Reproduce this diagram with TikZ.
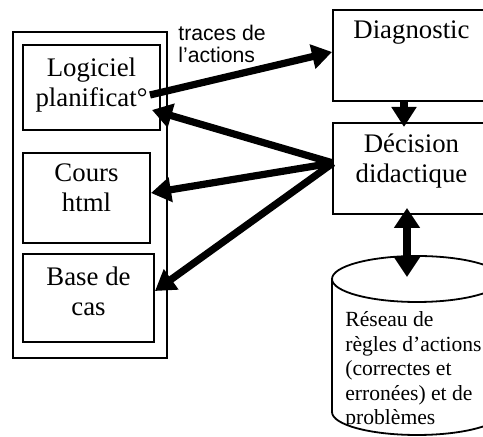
\documentclass[tikz,border=0pt]{standalone}
\usepackage{fontspec}
\setmainfont{Liberation Serif}
\newfontfamily\labelfont{Liberation Sans}
\usetikzlibrary{arrows.meta}
\begin{document}
\begin{tikzpicture}[x=0.5pt,y=-0.5pt,
  box/.style={draw,line width=0.9pt,rectangle,inner sep=0pt,outer sep=0pt,anchor=north west},
  boxtext/.style={font=\fontsize{13.4pt}{15pt}\selectfont,align=center,anchor=base,inner sep=0pt},
  dbtext/.style={font=\fontsize{10.8pt}{12.25pt}\selectfont,align=left,anchor=base west,inner sep=0pt},
  lbl/.style={font=\labelfont\fontsize{10.6pt}{11.4pt}\selectfont,align=left,anchor=base west,inner sep=0pt},
  fat/.style={line width=3.6pt,-{Triangle[length=10pt,width=12pt]}},
  fatboth/.style={line width=4.2pt,{Triangle[length=10pt,width=12.5pt]}-{Triangle[length=10pt,width=12.5pt]}}]
\useasboundingbox (0,0) rectangle (483,437);
\clip (0,0) rectangle (483,437);
\fill[white] (0,0) rectangle (483,437);
% left group
\node[box,minimum width=77pt,minimum height=163pt] (outer) at (13,32) {};
\node[box,minimum width=68.5pt,minimum height=42.5pt] (logi) at (23,45) {};
\node[box,minimum width=63.5pt,minimum height=45pt] (cours) at (23,153) {};
\node[box,minimum width=65.5pt,minimum height=44pt] (base) at (23,254) {};
\node[boxtext] (logit) at (91.5,107) {Logiciel\\planificat°};
\node[boxtext] (courst) at (86.5,212) {Cours\\html};
\node[boxtext] (baset) at (88.5,316) {Base de\\cas};
% right boxes
\node[box,minimum width=78.5pt,minimum height=45.5pt] (diag) at (333,10) {};
\node[box,minimum width=78.5pt,minimum height=45.5pt] (dec) at (333,123) {};
\node[boxtext] (diagt) at (411.5,39) {Diagnostic};
\node[boxtext] (dect) at (411.5,183) {Décision\\didactique};
% cylinder
\node[dbtext] (dbt) at (345,425) {Réseau de\\règles d’actions\\(correctes et\\erronées) et de\\problèmes};
\fill[white] (332,412) arc[start angle=180,end angle=360,x radius=85,y radius=-23] -- (502,440) -- (332,440) -- cycle;
\draw[line width=0.9pt] (332,279) -- (332,412) arc[start angle=180,end angle=0,x radius=85,y radius=23];
\draw[line width=0.9pt] (417,279) ellipse[x radius=85,y radius=23];
% label
\node[lbl] (traces) at (178,63) {traces de\\l’actions};
% connector end points
\coordinate (logiout) at (150,95);
\coordinate (diagin) at (332,52);
\coordinate (decout) at (333,163);
\coordinate (logiin) at (152,110);
\coordinate (coursin) at (151,193);
\coordinate (basein) at (155,291);
\coordinate (diagbot) at (404,101);
\coordinate (dectop) at (404,127);
\coordinate (decbot) at (407,208);
\coordinate (dbtop) at (407,277);
% connectors
\draw[fat] (logiout) -- (diagin);
\draw[fat] (decout) -- (logiin);
\draw[fat] (decout) -- (coursin);
\draw[fat] (decout) -- (basein);
\draw[fat] (diagbot) -- (dectop);
\draw[fatboth] (decbot) -- (dbtop);
\end{tikzpicture}
\end{document}
